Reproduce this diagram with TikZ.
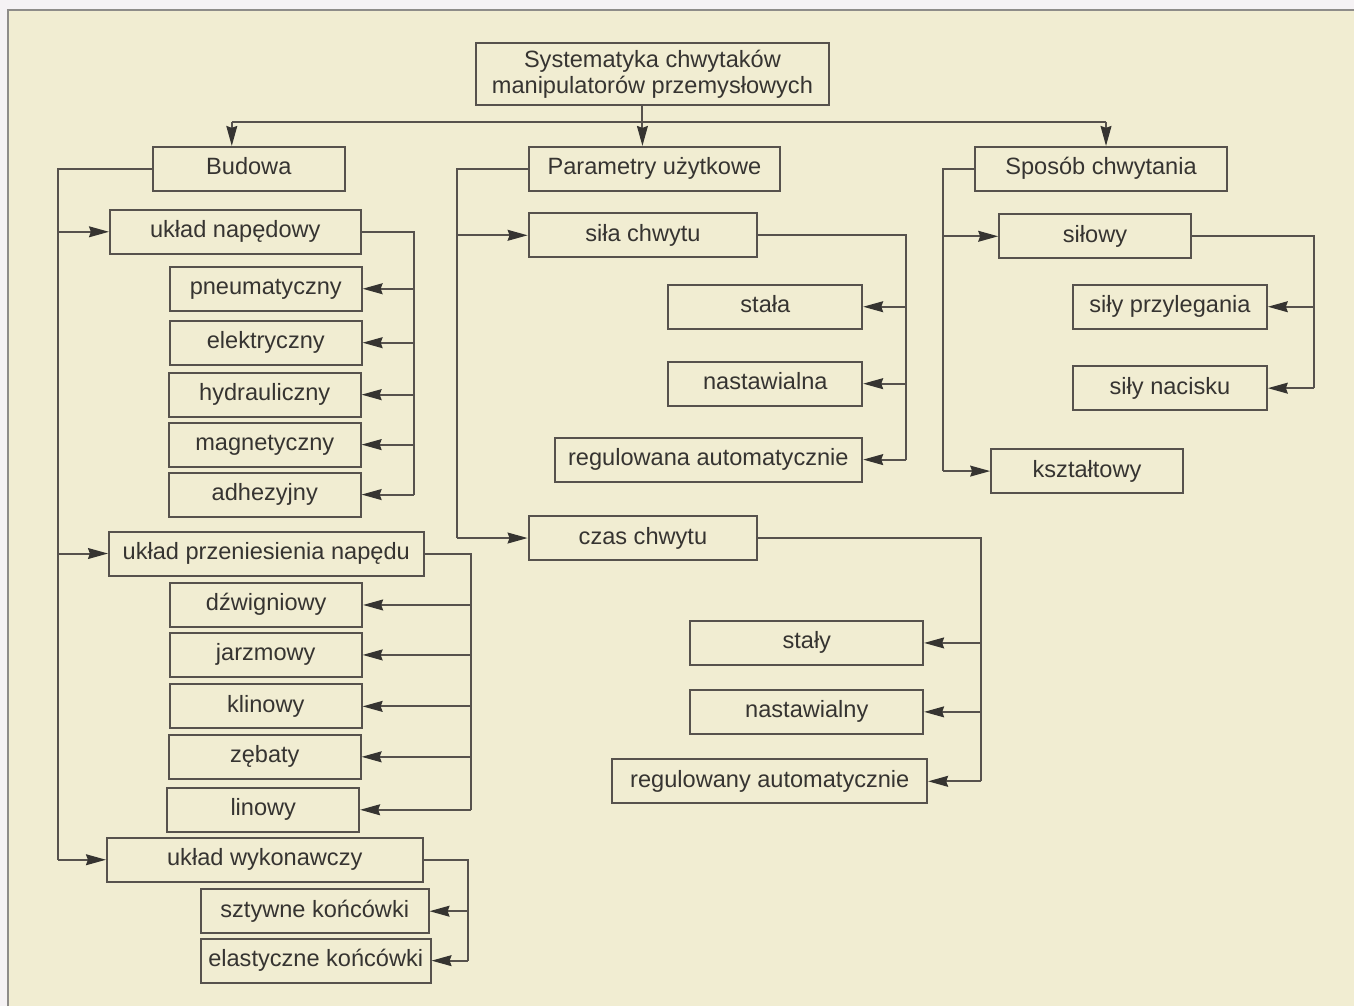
\documentclass[tikz,border=0pt]{standalone}
\usepackage{fontspec}
\setmainfont{Liberation Sans}
\usetikzlibrary{arrows.meta}
\definecolor{paper}{HTML}{F1EDD2}
\definecolor{margin}{HTML}{F5F2F4}
\definecolor{frame}{HTML}{8E8C89}
\definecolor{ink}{HTML}{57524D}
\definecolor{txt}{HTML}{363431}
\begin{document}
\begin{tikzpicture}
    [
    x=0.5pt,y=-0.5pt,
    font=\fontsize{11.8}{13}\selectfont,
    plain/.style={draw=ink,line width=1pt,rectangle,text=txt,inner sep=0pt,minimum height=22pt},
    box/.style={plain,text height=8.5pt,text depth=2.5pt},
    wa/.style={box,minimum width=96pt},
    line/.style={draw=ink,line width=1pt},
    arr/.style={line,-{Stealth[length=10pt,width=5.5pt,inset=1pt,line width=0.6pt,color=txt]}}
    ]
    \fill [margin] (0,0) rectangle (1355,1007);
    \fill [paper] (8,10) rectangle (1355,1007);
    \draw [frame,line width=1.2pt] (8,1007) -- (8,10) -- (1355,10);
    \useasboundingbox (0,0) rectangle (1355,1007);
    \node (top) at (653,74) [plain,minimum width=177pt,minimum height=31pt,align=center] {Systematyka chwytaków\\manipulatorów przemysłowych};
    \node (budowa) at (249,169) [box,minimum width=96pt] {Budowa};
    \node (param) at (655,169) [box,minimum width=126pt] {Parametry użytkowe};
    \node (sposob) at (1102,169) [box,minimum width=126.5pt] {Sposób chwytania};
    \node (naped) at (235.5,232) [box,minimum width=125.5pt] {układ napędowy};
    \node (pneu) at (266,289) [wa] {pneumatyczny};
    \node (elek) at (266,343) [wa] {elektryczny};
    \node (hydr) at (265,395) [wa] {hydrauliczny};
    \node (magn) at (265,445) [wa] {magnetyczny};
    \node (adhe) at (265,495) [wa] {adhezyjny};
    \node (przen) at (266.5,554) [box,minimum width=157.5pt] {układ przeniesienia napędu};
    \node (dzwi) at (266.5,605.5) [wa] {dźwigniowy};
    \node (jarz) at (266,655.5) [wa] {jarzmowy};
    \node (klin) at (266,707) [wa] {klinowy};
    \node (zeba) at (265,757.5) [wa] {zębaty};
    \node (lino) at (263.5,810.5) [wa] {linowy};
    \node (wykon) at (265,860.5) [box,minimum width=158pt] {układ wykonawczy};
    \node (szty) at (315,912) [box,minimum width=114pt] {sztywne końcówki};
    \node (elas) at (316,961.5) [box,minimum width=115pt] {elastyczne końcówki};
    \node (sila) at (643.5,235.5) [box,minimum width=114.5pt] {siła chwytu};
    \node (stala) at (766,307) [wa,minimum width=97pt] {stała};
    \node (nasta) at (766,384) [wa,minimum width=97pt] {nastawialna};
    \node (regua) at (709,460) [box,minimum width=154pt] {regulowana automatycznie};
    \node (czas) at (643.5,538.5) [box,minimum width=114.5pt] {czas chwytu};
    \node (staly) at (807.5,643.5) [box,minimum width=116.5pt] {stały};
    \node (nasty) at (807.5,712.5) [box,minimum width=116.5pt] {nastawialny};
    \node (reguy) at (770.5,782) [box,minimum width=157.5pt] {regulowany automatycznie};
    \node (silow) at (1096,236.5) [wa] {siłowy};
    \node (przyl) at (1171,307) [wa,minimum width=97pt] {siły przylegania};
    \node (nacis) at (1171,388.5) [wa,minimum width=97pt] {siły nacisku};
    \node (kszta) at (1088,471.5) [wa] {kształtowy};
    \coordinate (hub) at (643,122);
    \coordinate (lhub) at (232,122);
    \coordinate (rhub) at (1107,122);
    \coordinate (bl) at (58,0);
    \coordinate (br1) at (414,0);
    \coordinate (br2) at (471,0);
    \coordinate (br3) at (468,0);
    \coordinate (pl) at (457,0);
    \coordinate (pr1) at (907,0);
    \coordinate (pr2) at (982,0);
    \coordinate (sl) at (944,0);
    \coordinate (sr) at (1315,0);
    \draw [line] (top.south -| hub) -- (hub);
    \draw [line] (lhub) -- (rhub);
    \draw [arr] (hub) -- (hub |- param.north);
    \draw [arr] (lhub) -- (lhub |- budowa.north);
    \draw [arr] (rhub) -- (rhub |- sposob.north);
    \draw [line] (budowa.west) -- (bl |- budowa.west) -- (bl |- wykon.west);
    \draw [arr] (bl |- naped.west) -- (naped.west);
    \draw [arr] (bl |- przen.west) -- (przen.west);
    \draw [arr] (bl |- wykon.west) -- (wykon.west);
    \draw [line] (naped.east) -- (br1 |- naped.east) -- (br1 |- adhe.east);
    \foreach \n in {pneu,elek,hydr,magn,adhe}
      \draw [arr] (br1 |- \n.east) -- (\n.east);
    \draw [line] (przen.east) -- (br2 |- przen.east) -- (br2 |- lino.east);
    \foreach \n in {dzwi,jarz,klin,zeba,lino}
      \draw [arr] (br2 |- \n.east) -- (\n.east);
    \draw [line] (wykon.east) -- (br3 |- wykon.east) -- (br3 |- elas.east);
    \foreach \n in {szty,elas}
      \draw [arr] (br3 |- \n.east) -- (\n.east);
    \draw [line] (param.west) -- (pl |- param.west) -- (pl |- czas.west);
    \draw [arr] (pl |- sila.west) -- (sila.west);
    \draw [arr] (pl |- czas.west) -- (czas.west);
    \draw [line] (sila.east) -- (pr1 |- sila.east) -- (pr1 |- regua.east);
    \foreach \n in {stala,nasta,regua}
      \draw [arr] (pr1 |- \n.east) -- (\n.east);
    \draw [line] (czas.east) -- (pr2 |- czas.east) -- (pr2 |- reguy.east);
    \foreach \n in {staly,nasty,reguy}
      \draw [arr] (pr2 |- \n.east) -- (\n.east);
    \draw [line] (sposob.west) -- (sl |- sposob.west) -- (sl |- kszta.west);
    \draw [arr] (sl |- silow.west) -- (silow.west);
    \draw [arr] (sl |- kszta.west) -- (kszta.west);
    \draw [line] (silow.east) -- (sr |- silow.east) -- (sr |- nacis.east);
    \foreach \n in {przyl,nacis}
      \draw [arr] (sr |- \n.east) -- (\n.east);
  \end{tikzpicture}
\end{document}
